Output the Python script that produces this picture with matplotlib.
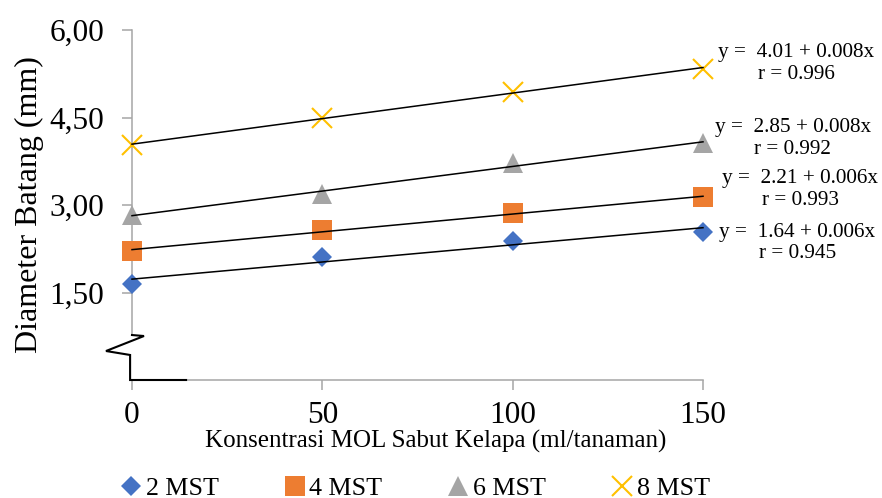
import numpy as np
import matplotlib
matplotlib.use("Agg")
import matplotlib.pyplot as plt

plt.rcParams['font.family'] = ['Liberation Serif', 'DejaVu Serif']

# ---- data ----
konsentrasi = [0, 50, 100, 150]
series_names = ["2 MST", "4 MST", "6 MST", "8 MST"]
mst2 = [1.65, 2.11, 2.38, 2.54]
mst4 = [2.21, 2.57, 2.86, 3.13]
mst6 = [2.83, 3.19, 3.72, 4.06]
mst8 = [4.03, 4.49, 4.94, 5.34]
equations = ["y =  1.64 + 0.006x\nr = 0.945",
             "y =  2.21 + 0.006x\nr = 0.993",
             "y =  2.85 + 0.008x\nr = 0.992",
             "y =  4.01 + 0.008x\nr = 0.996"]
yticks = [1.5, 3.0, 4.5, 6.0]
ytick_labels = ["1,50", "3,00", "4,50", "6,00"]
xticks = [0, 50, 100, 150]

# ---- styles ----
colors = ["#4472C4", "#ED7D31", "#A5A5A5", "#FFC000"]
markers = ["D", "s", "^", "x"]
msizes = [10, 14, 14, 14]
eq_pos = [(174.8, 2.35), (175.6, 3.27), (173.6, 4.14), (174.5, 5.43)]
axis_gray = "#A6A6A6"

fig = plt.figure(figsize=(8.82, 4.98), dpi=100)
ax = fig.add_axes([132/882, 1-380/498, 571/882, 350/498])
ax.set_xlim(0, 150)
ax.set_ylim(0, 6)

all_series = [mst2, mst4, mst6, mst8]
x = np.array(konsentrasi, dtype=float)
handles = []
for vals, c, m, ms, name, eq, pos in zip(all_series, colors, markers, msizes,
                                         series_names, equations, eq_pos):
    y = np.array(vals)
    b, a = np.polyfit(x, y, 1)
    xx = np.array([0, 150])
    ax.plot(xx, a + b*xx, color="black", lw=1.1, zorder=3, clip_on=False)
    h, = ax.plot(x, y, linestyle="none", marker=m, markersize=ms, color=c,
                 markeredgewidth=1.5 if m == "x" else 0, zorder=2,
                 clip_on=False, label=name)
    handles.append(h)
    ax.text(pos[0], pos[1], eq, ha="center", va="center", fontsize=15.3,
            linespacing=1.2, clip_on=False)

# spines
for s in ["top", "right", "left"]:
    ax.spines[s].set_visible(False)
ax.spines["bottom"].set_color(axis_gray)
ax.spines["bottom"].set_linewidth(1.1)
# broken left axis
ax.plot([0, 0], [0.771, 6], color=axis_gray, lw=1.1, clip_on=False, zorder=1)
ax.plot([0, 3.15, -6.83, -0.5, -0.5, 14.2],
        [0.771, 0.754, 0.497, 0.429, 0.0, 0.0],
        color="black", lw=1.5, clip_on=False, zorder=4,
        solid_joinstyle="miter")

ax.set_yticks(yticks)
ax.set_yticklabels(ytick_labels)
ax.set_xticks(xticks)
ax.tick_params(axis="y", length=7, width=1.1, color=axis_gray,
               labelsize=22.5, pad=13)
ax.tick_params(axis="x", length=7, width=1.1, color=axis_gray,
               labelsize=22.5, pad=8)

fig.text(29/882, 1-205/498, "Diameter Batang (mm)", rotation=90,
         ha="center", va="center", fontsize=23)
fig.text(435.5/882, 1-441/498, "Konsentrasi MOL Sabut Kelapa (ml/tanaman)",
         ha="center", va="center", fontsize=18)

fig.legend(handles=handles, loc="center left",
           bbox_to_anchor=(121/882, 1-488/498), ncol=4, frameon=False,
           fontsize=18.7, handlelength=0.75, handletextpad=0.2,
           columnspacing=2.55, borderpad=0, borderaxespad=0)

fig.savefig("out.png", dpi=100)
